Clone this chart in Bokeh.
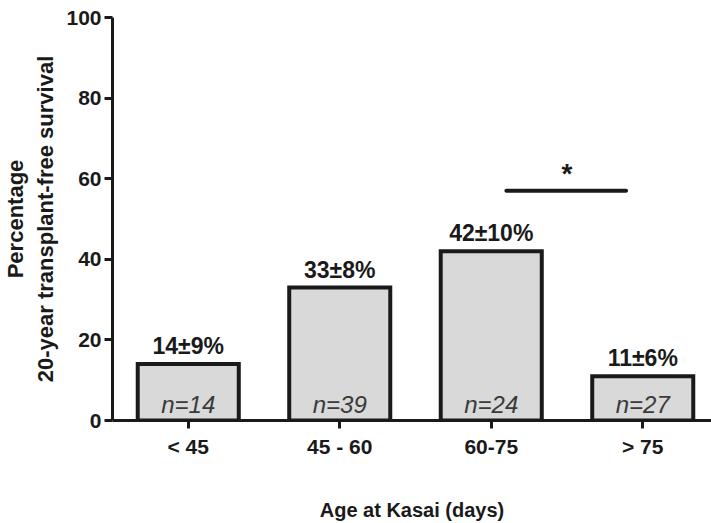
from bokeh.plotting import figure
from bokeh.models import Range1d, FixedTicker, Label, LabelSet, ColumnDataSource
from bokeh.core.properties import value
from bokeh.embed import file_html
from bokeh.resources import INLINE

# ---- data ----
categories = ["< 45", "45 - 60", "60-75", "> 75"]
survival = [14, 33, 42, 11]
std_err = [9, 8, 10, 6]
n_patients = [14, 39, 24, 27]
y_ticks = [0, 20, 40, 60, 80, 100]
sig_pair = [3, 4]          # significance between 60-75 and > 75
sig_level = 57
sig_mark = "*"
y_title = "Percentage\n20-year transplant-free survival"
x_title = "Age at Kasai (days)"

INK = "#1a1a1a"
FONT = "Liberation Sans"

xs = list(range(1, len(categories) + 1))
src = ColumnDataSource(dict(
    x=xs,
    v=survival,
    lab=[f"{v}\u00b1{e}%" for v, e in zip(survival, std_err)],
    nlab=[f"n={n}" for n in n_patients],
    zero=[0] * len(xs),
))

W, H = 711, 523
p = figure(width=W, height=H, output_backend="svg", toolbar_location=None,
           x_range=Range1d(0.5, 0.5 + (W - 112) / 151.5), y_range=Range1d(0, 100),
           min_border_left=112, min_border_right=0, min_border_top=17,
           min_border_bottom=H - 420)
p.grid.visible = False
p.outline_line_color = None
p.background_fill_color = "white"

p.vbar(x="x", top="v", width=0.667, source=src, fill_color="#d9d9d9",
       line_color=INK, line_width=4, line_join="miter")

p.add_layout(LabelSet(x="x", y="v", text="lab", source=src, text_align="center",
                      text_baseline="alphabetic", y_offset=10,
                      text_font=value(FONT), text_font_style="bold",
                      text_font_size=value("23px"), text_color=INK))
p.add_layout(LabelSet(x="x", y="zero", text="nlab", source=src, text_align="center",
                      text_baseline="alphabetic", y_offset=8,
                      text_font=value(FONT), text_font_style="italic",
                      text_font_size=value("24px"), text_color="#3a3a3a"))

# significance bar
p.line(x=[sig_pair[0] + 0.1, sig_pair[1] - 0.11], y=[sig_level, sig_level],
       line_width=4, line_color=INK, line_cap="round")
p.add_layout(Label(x=(sig_pair[0] + sig_pair[1]) / 2, y=sig_level, text=sig_mark,
                   text_align="center", text_baseline="alphabetic", y_offset=17,
                   text_font=FONT, text_font_style="bold", text_font_size="28px",
                   text_color=INK))

# axes
for ax in (p.xaxis, p.yaxis):
    ax.axis_line_width = 3
    ax.axis_line_color = INK
    ax.major_tick_line_width = 3
    ax.major_tick_line_color = INK
    ax.major_tick_out = 8
    ax.major_tick_in = 0
    ax.minor_tick_line_color = None
    ax.major_label_text_font = FONT
    ax.major_label_text_font_style = "bold"
    ax.major_label_text_font_size = "21px"
    ax.major_label_text_color = INK
    ax.axis_label_text_font = FONT
    ax.axis_label_text_font_style = "bold"
    ax.axis_label_text_color = INK

p.yaxis.ticker = FixedTicker(ticks=y_ticks)
p.yaxis.major_label_standoff = 3
p.yaxis.axis_label = y_title
p.yaxis.axis_label_text_font_size = "22px"
p.yaxis.axis_label_standoff = 5
p.yaxis.axis_label_text_align = "center"

p.xaxis.ticker = FixedTicker(ticks=xs)
p.xaxis.major_label_overrides = {x: c for x, c in zip(xs, categories)}
p.xaxis.major_label_standoff = 6
p.xaxis.axis_label = x_title
p.xaxis.axis_label_text_font_size = "20px"
p.xaxis.axis_label_standoff = 38

open("out.html", "w").write(file_html(p, INLINE))
